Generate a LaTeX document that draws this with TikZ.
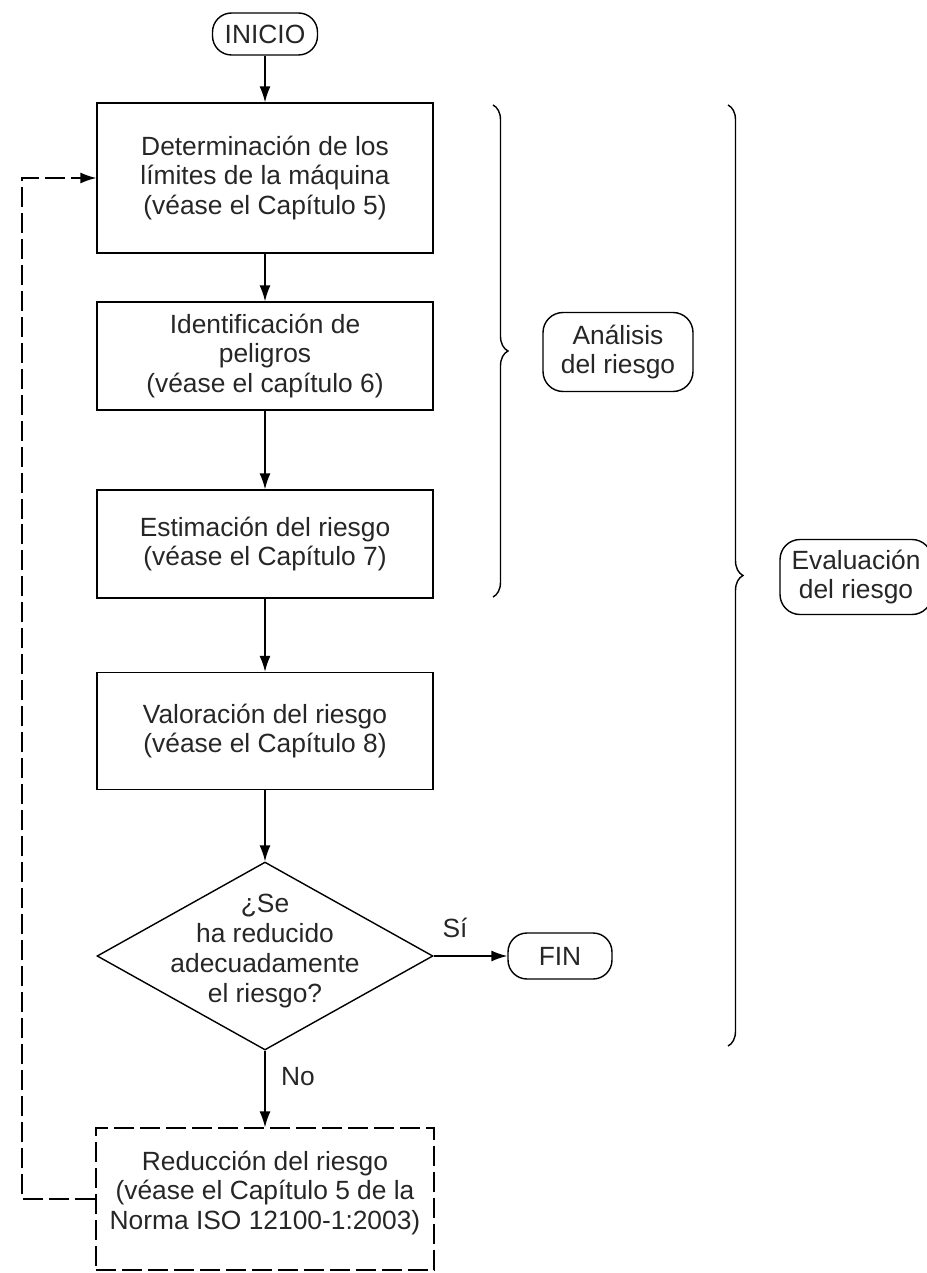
\documentclass[tikz,border=0pt]{standalone}
\usepackage{fontspec}
\setmainfont{Liberation Sans}
\usetikzlibrary{arrows.meta,shapes.geometric,decorations.pathreplacing}
\tikzset{
  txt/.style={font=\fontsize{15}{17}\selectfont, align=center, text=black!85},
  stepbox/.style={txt, draw, line width=0.8pt, minimum width=6.72cm, inner sep=0pt},
  term/.style={txt, draw, line width=0.8pt, rounded corners=0.38cm, inner sep=0pt},
  bubble/.style={txt, draw, line width=0.8pt, rounded corners=0.4cm, inner sep=0pt},
  flow/.style={line width=0.8pt, -{Latex[length=0.32cm,width=0.22cm]}},
  dashbox/.style={dash pattern=on 0.4cm off 0.12cm},
  bracestyle/.style={line width=0.8pt, decorate, decoration={brace, amplitude=0.3cm}}
}
\begin{document}
\begin{tikzpicture}[x=0.02cm,y=-0.02cm]
\useasboundingbox (0,0) rectangle (926,1273);
\node[term, minimum width=2.1cm, minimum height=0.84cm] (inicio) at (265,34) {INICIO};
\node[stepbox, minimum height=3cm] (b1) at (265,178) {Determinación de los\\límites de la máquina\\(véase el Capítulo 5)};
\node[stepbox, minimum height=2.16cm] (b2) at (265,356) {Identificación de\\peligros\\(véase el capítulo 6)};
\node[stepbox, minimum height=2.16cm] (b3) at (265,544) {Estimación del riesgo\\(véase el Capítulo 7)};
\node[stepbox, minimum height=2.34cm] (b4) at (265,731) {Valoración del riesgo\\(véase el Capítulo 8)};
\node[draw, line width=0.8pt, shape=diamond, minimum width=6.72cm, minimum height=3.76cm, inner sep=0pt] (dia) at (265,956) {};
\node[txt] (diat) at (265,951) {¿Se\\ha reducido\\adecuadamente\\el riesgo?};
\node[term, minimum width=2.08cm, minimum height=0.92cm] (fin) at (560,956) {FIN};
\node[stepbox, dashbox, minimum width=6.76cm, minimum height=2.84cm] (b5) at (265,1199) {};
\node[txt] (b5t) at (265,1193) {Reducción del riesgo\\(véase el Capítulo 5 de la\\Norma ISO 12100-1:2003)};
\node[txt] (si) at (455,928) {Sí};
\node[txt] (no) at (298,1077) {No};
\node[bubble, minimum width=3cm, minimum height=1.58cm] (ana) at (618,352) {Análisis\\del riesgo};
\node[bubble, minimum width=3.04cm, minimum height=1.5cm] (eva) at (856,577) {Evaluación\\del riesgo};
\coordinate (fbc) at (22,1199);
\coordinate (br1a) at (493,105);
\coordinate (br1b) at (493,597);
\coordinate (br2a) at (728,105);
\coordinate (br2b) at (728,1046);
\draw[flow] (inicio) -- (b1);
\draw[flow] (b1) -- (b2);
\draw[flow] (b2) -- (b3);
\draw[flow] (b3) -- (b4);
\draw[flow] (b4) -- (dia);
\draw[flow] (dia.east) -- (fin);
\draw[flow] (dia.south) -- (b5);
\draw[flow, dashbox] (b5.west) -- (fbc) |- (b1.west);
\draw[bracestyle] (br1a) -- (br1b);
\draw[bracestyle] (br2a) -- (br2b);
\end{tikzpicture}
\end{document}
